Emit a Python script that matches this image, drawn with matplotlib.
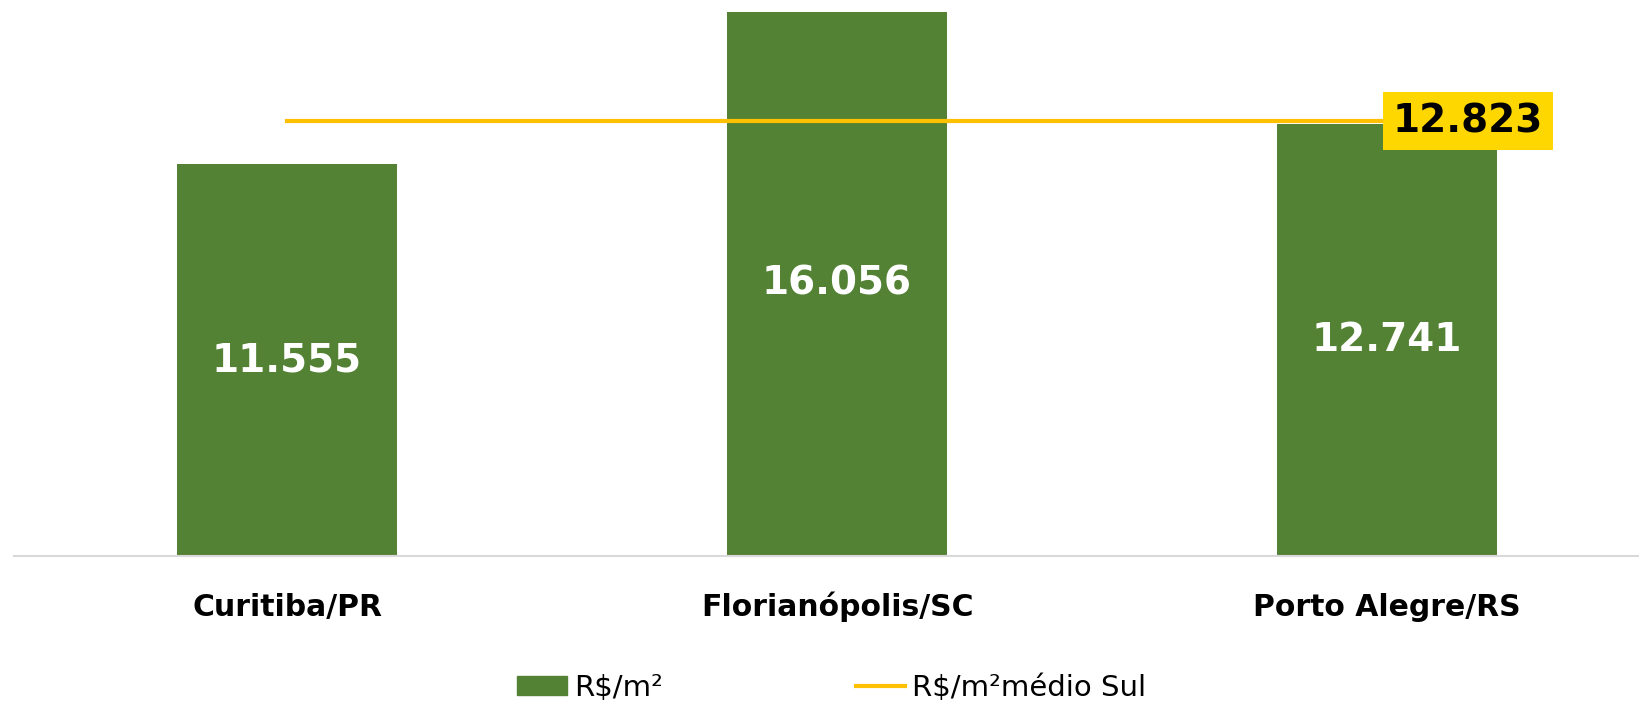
import numpy as np
import matplotlib
matplotlib.use("Agg")
import matplotlib.pyplot as plt
from matplotlib.patches import Patch
from matplotlib.lines import Line2D

# dados
cidades = ["Curitiba/PR", "Florianópolis/SC", "Porto Alegre/RS"]
valores = [11555, 16056, 12741]
media_sul = 12823

verde = "#548235"
amarelo = "#FFC000"
caixa = "#FFD700"

def fmt(v):
    return f"{v:,}".replace(",", ".")

plt.rcParams['font.family'] = ['DejaVu Sans']

fig = plt.figure(figsize=(16.39, 7.04), dpi=100)
ax = fig.add_axes([14/1639, 0.2102, 1 - 14/1639, 0.7898])

x = np.arange(len(cidades))
ax.bar(x, valores, width=0.4, color=verde, zorder=2)
ax.plot([x[0], x[-1]], [media_sul, media_sul], color=amarelo, lw=3, zorder=3)

# rótulos das barras
for xi, v in zip(x, valores):
    ax.text(xi, v / 2, fmt(v), ha='center', va='center', color='white',
            fontsize=28, fontweight='bold', zorder=4)

# rótulo da média
ax.annotate(fmt(media_sul), xy=(x[-1], media_sul), xytext=(4, 0),
            textcoords='offset points', ha='left', va='center',
            fontsize=28, fontweight='bold', color='black', zorder=5,
            bbox=dict(boxstyle='square,pad=0.25', fc=caixa, ec='none'))

ax.set_xlim(-0.4964, 2.458)
ax.set_ylim(0, 16396)

ax.set_xticks(x)
ax.set_xticklabels(cidades, fontsize=21.5, fontweight='bold')
for lbl in ax.get_xticklabels():
    lbl.set_verticalalignment('baseline')
ax.tick_params(axis='x', length=0, pad=43)
ax.set_yticks([])
for s in ['top', 'right', 'left']:
    ax.spines[s].set_visible(False)
ax.spines['bottom'].set_color('#D9D9D9')
ax.spines['bottom'].set_linewidth(1.5)

handles = [Patch(color=verde, label="R$/m²"),
           Line2D([0], [0], color=amarelo, lw=3, label="R$/m²médio Sul")]
fig.legend(handles=handles, loc='center', bbox_to_anchor=(0.5076, 1 - 688/704),
           ncol=2, frameon=False, fontsize=21, handlelength=1.7,
           handleheight=0.6, handletextpad=0.25, columnspacing=6.6)

fig.savefig("out.png", dpi=100)
